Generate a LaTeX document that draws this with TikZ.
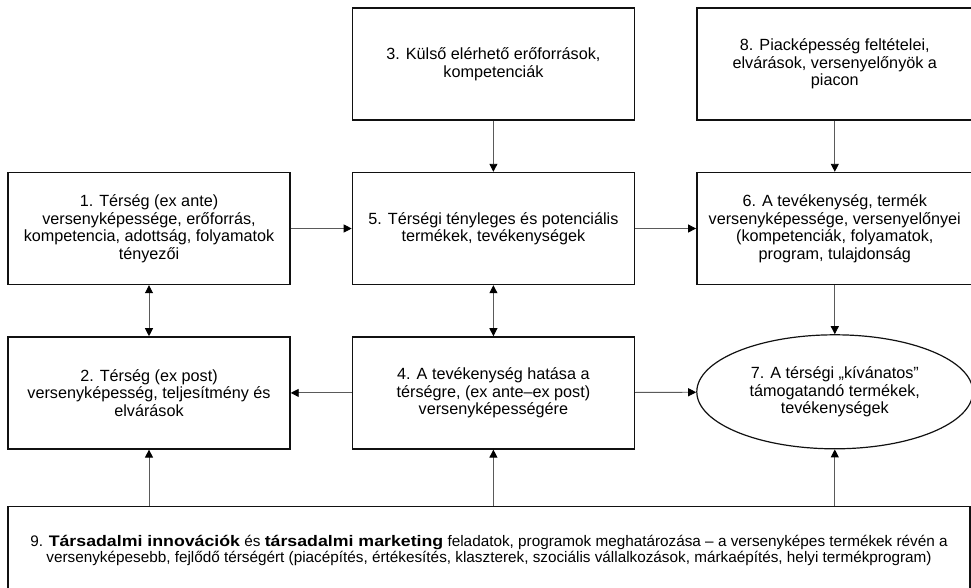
\documentclass[tikz,border=0pt]{standalone}
\usepackage{fontspec}
\setmainfont{Liberation Sans}[BoldFeatures={FakeStretch=1.16}]
\usetikzlibrary{arrows.meta,positioning,shapes.geometric}
\definecolor{FrameInk}{HTML}{111111}
\definecolor{WireInk}{HTML}{5A5A5A}
\tikzset{
  factor/.style={draw=FrameInk, line width=1.4pt, align=center,
    minimum width=282pt, minimum height=112pt, inner sep=3pt,
    font=\fontsize{16.2}{17.5}\selectfont},
  marketbox/.style={factor, minimum width=276pt},
  goal/.style={ellipse, draw=FrameInk, line width=1.2pt, align=center,
    minimum width=276pt, minimum height=114pt, inner sep=0pt,
    font=\fontsize{16.2}{17.5}\selectfont},
  taskbox/.style={factor, minimum width=962pt, minimum height=88pt,
    font=\fontsize{15.3}{16.5}\selectfont},
  wire/.style={-{Triangle[length=8pt,width=8pt,color=black]}, line width=0.9pt, draw=WireInk},
  twowire/.style={wire, {Triangle[length=8pt,width=8pt,color=black]}-{Triangle[length=8pt,width=8pt,color=black]}}
}

\begin{document}
\begin{tikzpicture}[x=1pt, y=-1pt, node distance=51pt and 61pt]
  \useasboundingbox (0,0) rectangle (971,587);
  \node[factor] (exante) at (149,228.5) {1. Térség (ex ante)\\versenyképessége, erőforrás,\\kompetencia, adottság, folyamatok\\tényezői};
  \node[factor, right=of exante] (products) {5. Térségi tényleges és potenciális\\termékek, tevékenységek};
  \node[marketbox, right=of products] (advantage) {6. A tevékenység, termék\\versenyképessége, versenyelőnyei\\(kompetenciák, folyamatok,\\program, tulajdonság};
  \node[factor, above=of products] (external) {3. Külső elérhető erőforrások,\\kompetenciák};
  \node[marketbox, above=of advantage] (market) {8. Piacképesség feltételei,\\elvárások, versenyelőnyök a\\piacon};
  \node[factor, below=of exante] (expost) {2. Térség (ex post)\\versenyképesség, teljesítmény és\\elvárások};
  \node[factor, below=of products] (impact) {4. A tevékenység hatása a\\térségre, (ex ante–ex post)\\versenyképességére};
  \node[goal, below=49pt of advantage] (desired) {7. A térségi „kívánatos”\\támogatandó termékek,\\tevékenységek};
  \node[taskbox, anchor=north west] (programme) at ([yshift=-56pt]expost.south west) {9. \textbf{Társadalmi innovációk} és \textbf{társadalmi marketing} feladatok, programok meghatározása – a versenyképes termékek révén a\\versenyképesebb, fejlődő térségért (piacépítés, értékesítés, klaszterek, szociális vállalkozások, márkaépítés, helyi termékprogram)};
  \draw[wire] (external) -- (products);
  \draw[wire] (market) -- (advantage);
  \draw[wire] (exante) -- (products);
  \draw[wire] (products) -- (advantage);
  \draw[twowire] (exante) -- (expost);
  \draw[twowire] (products) -- (impact);
  \draw[wire] (advantage) -- (desired);
  \draw[wire] (impact) -- (expost);
  \draw[wire] (impact) -- (desired);
  \draw[wire] (programme.north -| expost) -- (expost);
  \draw[wire] (programme.north -| impact) -- (impact);
  \draw[wire] (programme.north -| desired) -- (desired);
\end{tikzpicture}
\end{document}
